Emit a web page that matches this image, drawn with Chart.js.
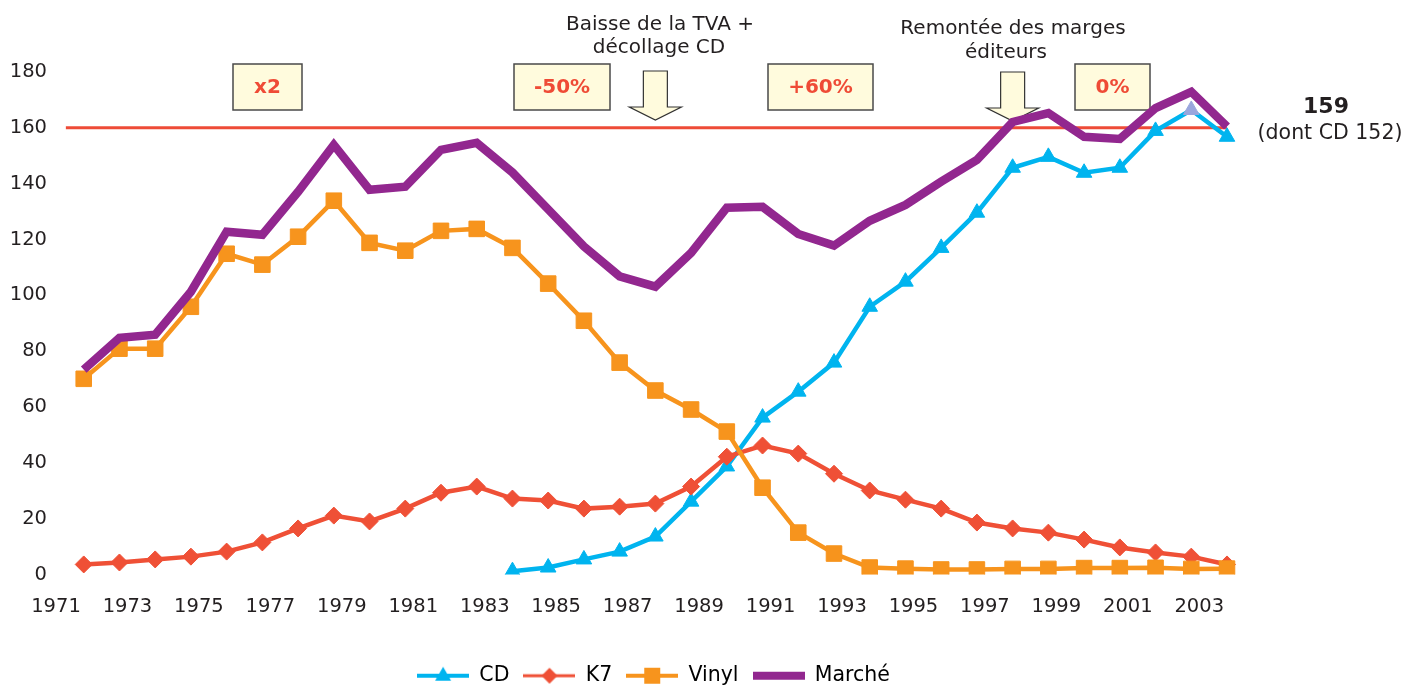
<!DOCTYPE html>
<html lang="fr">
<head>
<meta charset="utf-8">
<title>Marché du disque</title>
<script src="https://cdn.jsdelivr.net/npm/chart.js@4.4.1/dist/chart.umd.min.js"></script>
<style>
  html, body { margin: 0; padding: 0; background: #fff; }
  #wrap { position: relative; width: 1407px; height: 685px; }
</style>
</head>
<body>
<div id="wrap"><canvas id="chart"></canvas></div>
<script>
// années (1971 sans valeur, sert de départ à l'axe)
const years = ['1971', '1972', '1973', '1974', '1975', '1976', '1977', '1978', '1979', '1980',
  '1981', '1982', '1983', '1984', '1985', '1986', '1987', '1988', '1989', '1990',
  '1991', '1992', '1993', '1994', '1995', '1996', '1997', '1998', '1999', '2000',
  '2001', '2002', '2003', '2004']

const cd = [null, null, null, null, null, null, null, null, null, null, null, null, null,
  1.2, 2.5, 5.4, 8.2, 13.6, 26.1, 38.7, 56.2, 65.5, 75.9, 95.9, 104.9, 117.0, 129.6, 145.7,
  149.6, 143.9, 145.7, 158.9, 166.4, 156.8]

const k7 = [null, 3.6, 4.3, 5.4, 6.4, 8.2, 11.5, 16.5, 21.1, 19.0,
  23.6, 29.3, 31.5, 27.2, 26.5, 23.6, 24.3, 25.4, 31.5,
  42.2, 46.2, 43.3, 36.1, 30.1, 26.8, 23.6, 18.6, 16.5,
  15.0, 12.5, 9.7, 7.9, 6.4, 3.6]

const vinyl = [null, 70.1, 80.9, 80.9, 95.9, 114.9, 111.0, 121.0, 133.9, 118.8,
  116.0, 123.1, 123.8, 117.0, 104.2, 90.9, 75.9, 65.9, 59.1,
  51.2, 31.1, 15.0, 7.5, 2.5, 2.1, 1.8, 1.8, 2.0,
  2.0, 2.3, 2.3, 2.4, 2.0, 2.1]

const marche = [null, 73.4, 84.8, 85.9, 101.3, 122.8, 121.7, 137.1, 153.9, 137.8,
  138.9, 152.1, 154.6, 144.0, 130.8, 117.5, 106.8, 103.1, 115.2,
  131.4, 131.7, 122.0, 117.8, 126.7, 132.4, 140.7, 148.5, 162.1,
  165.3, 156.8, 156.0, 167.1, 172.9, 160.5]

const seuil = 160
const yTicks = [0, 20, 40, 60, 80, 100, 120, 140, 160, 180]

const FONT = '"DejaVu Sans", "Open Sans", sans-serif'
const INK = '#231F20'
const RED = '#EF4B36'

// petite icône de légende : trait + marqueur
function legendIcon(color, marker, lineW) {
  const c = document.createElement('canvas')
  c.width = 52
  c.height = 22
  const g = c.getContext('2d')
  g.strokeStyle = color
  g.fillStyle = color
  g.lineWidth = lineW
  g.beginPath()
  g.moveTo(0, 11)
  g.lineTo(52, 11)
  g.stroke()
  g.beginPath()
  if (marker === 'triangle') {
    g.moveTo(26, 2); g.lineTo(34, 16); g.lineTo(18, 16)
  } else if (marker === 'diamond') {
    g.moveTo(26, 3); g.lineTo(34, 11); g.lineTo(26, 19); g.lineTo(18, 11)
  } else if (marker === 'square') {
    g.rect(18, 3, 16, 16)
  }
  g.closePath()
  if (marker) g.fill()
  return c
}

const icons = [
  legendIcon('#00B4EF', 'triangle', 4),
  legendIcon('#EF5036', 'diamond', 3),
  legendIcon('#F7941D', 'square', 4),
  legendIcon('#92278F', null, 8),
]

function box(ctx, x, y, w, h, label) {
  ctx.fillStyle = '#FFFBDD'
  ctx.strokeStyle = '#4a4a4a'
  ctx.lineWidth = 1.5
  ctx.fillRect(x, y, w, h)
  ctx.strokeRect(x, y, w, h)
  ctx.fillStyle = RED
  ctx.font = 'bold 20px ' + FONT
  ctx.textAlign = 'center'
  ctx.textBaseline = 'middle'
  ctx.fillText(label, x + w / 2, y + h / 2 + 1)
}

function arrow(ctx, tipX, tipY) {
  ctx.beginPath()
  ctx.moveTo(tipX - 12, tipY - 49)
  ctx.lineTo(tipX + 12, tipY - 49)
  ctx.lineTo(tipX + 12, tipY - 13)
  ctx.lineTo(tipX + 26, tipY - 13)
  ctx.lineTo(tipX, tipY)
  ctx.lineTo(tipX - 26, tipY - 13)
  ctx.lineTo(tipX - 12, tipY - 13)
  ctx.closePath()
  ctx.fillStyle = '#FFFBDD'
  ctx.fill()
  ctx.strokeStyle = '#333'
  ctx.lineWidth = 1.2
  ctx.stroke()
}

// ligne des 160, cadres, flèches et textes
const annotations = {
  id: 'annotations',
  afterLayout(chart) {
    // la légende est un peu décalée vers la droite dans l'original
    chart.legend.left += 40
    chart.legend.right += 40
  },
  beforeDatasetsDraw(chart) {
    const { ctx, scales: { x, y } } = chart
    ctx.save()
    const ys = y.getPixelForValue(seuil)
    ctx.strokeStyle = '#EE4B37'
    ctx.lineWidth = 3
    ctx.beginPath()
    ctx.moveTo(x.getPixelForValue(0.5), ys)
    ctx.lineTo(x.getPixelForValue(years.length - 1), ys)
    ctx.stroke()

    box(ctx, 233, 64, 69, 46, 'x2')
    box(ctx, 514, 64, 96, 46, '-50%')
    box(ctx, 768, 64, 105, 46, '+60%')
    box(ctx, 1075, 64, 75, 46, '0%')

    arrow(ctx, x.getPixelForValue(years.indexOf('1988')), 120)
    arrow(ctx, x.getPixelForValue(years.indexOf('1998')), 121)

    ctx.fillStyle = INK
    ctx.textAlign = 'center'
    ctx.textBaseline = 'middle'
    ctx.font = '20px ' + FONT
    ctx.fillText('Baisse de la TVA +', 660, 25)
    ctx.fillText('décollage CD', 659, 48)
    ctx.fillText('Remontée des marges', 1013, 29)
    ctx.fillText('éditeurs', 1006, 53)
    ctx.font = '20.5px ' + FONT
    ctx.fillText('(dont CD 152)', 1330, 134)
    ctx.font = 'bold 22px ' + FONT
    ctx.fillText('159', 1326, 107)
    ctx.restore()
  }
}

const ctx = document.getElementById('chart')
const chart = new Chart(ctx, {
  type: 'line',
  data: {
    labels: years,
    datasets: [
      {
        label: 'CD',
        data: cd,
        borderColor: '#00B4EF',
        backgroundColor: '#00B4EF',
        pointBackgroundColor: (c) => c.dataIndex === years.indexOf('2003') ? '#9AA7DD' : '#00B4EF',
        pointBorderColor: (c) => c.dataIndex === years.indexOf('2003') ? '#9AA7DD' : '#00B4EF',
        borderWidth: 4.5,
        pointStyle: 'triangle',
        pointRadius: 9,
        pointBorderWidth: 1,
        order: 4,
      },
      {
        label: 'K7',
        data: k7,
        borderColor: '#EF5036',
        backgroundColor: '#EF5036',
        borderWidth: 4.5,
        pointStyle: 'rectRot',
        pointRadius: 8.5,
        pointBorderWidth: 1,
        order: 3,
      },
      {
        label: 'Vinyl',
        data: vinyl,
        borderColor: '#F7941D',
        backgroundColor: '#F7941D',
        borderWidth: 4.5,
        pointStyle: 'rect',
        pointRadius: 11,
        pointBorderWidth: 1,
        order: 2,
      },
      {
        label: 'Marché',
        data: marche,
        borderColor: '#92278F',
        backgroundColor: '#92278F',
        borderWidth: 8.5,
        pointRadius: 0,
        order: 1,
      },
    ],
  },
  options: {
    responsive: true,
    maintainAspectRatio: false,
    animation: false,
    layout: { padding: { top: 72, right: 180, left: 0, bottom: -11 } },
    elements: { line: { tension: 0 } },
    scales: {
      x: {
        offset: false,
        grid: { display: false, drawTicks: false },
        border: { display: false },
        afterFit: (s) => { s.height = 77 },
        ticks: {
          autoSkip: false,
          maxRotation: 0,
          padding: 21,
          labelOffset: 8,
          color: INK,
          font: { family: FONT, size: 19.5 },
          callback: (v, i) => (i % 2 === 0 ? years[i] : ''),
        },
      },
      y: {
        min: 0,
        max: 180,
        grid: { display: false, drawTicks: false },
        border: { display: false },
        afterFit: (s) => { s.width = 48 },
        afterBuildTicks: (s) => { s.ticks = yTicks.map((v) => ({ value: v })) },
        ticks: {
          padding: 1,
          color: INK,
          font: { family: FONT, size: 19.5 },
        },
      },
    },
    plugins: {
      tooltip: { enabled: false },
      legend: {
        position: 'bottom',
        labels: {
          usePointStyle: true,
          pointStyleWidth: 52,
          padding: 14,
          color: INK,
          font: { family: FONT, size: 20.5 },
          generateLabels: (chart) => chart.data.datasets.map((ds, i) => ({
            text: ds.label,
            pointStyle: icons[i],
            fillStyle: ds.borderColor,
            strokeStyle: ds.borderColor,
            lineWidth: 0,
            hidden: false,
            datasetIndex: i,
          })),
        },
      },
    },
  },
  plugins: [annotations],
})
</script>
</body>
</html>
